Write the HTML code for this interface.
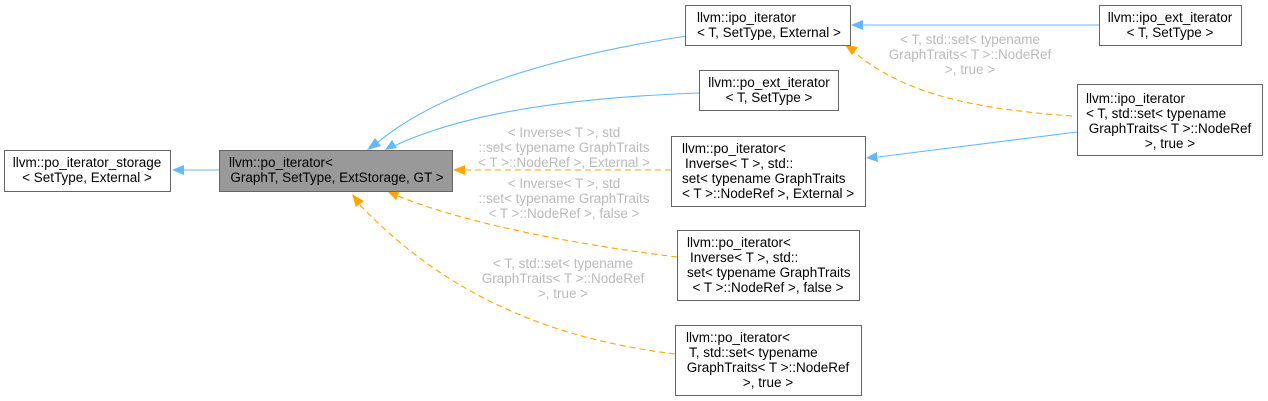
<!DOCTYPE html>
<html><head><meta charset="utf-8"><style>
html,body{margin:0;padding:0;background:#fff;}
svg{display:block;font-family:"Liberation Sans",Arial,sans-serif;}
.n{fill:#fff;stroke:#666;stroke-width:1}
.t{font-size:13.5px;fill:#000;text-anchor:middle}
.s{font-size:13.5px;fill:#000;text-anchor:start}
.l{font-size:13.5px;fill:#bbb;text-anchor:middle}
.b{fill:none;stroke:#63b8ff;stroke-width:1.1}
.o{fill:none;stroke:#ffa500;stroke-width:1.1;stroke-dasharray:6,4}
</style></head><body>
<svg width="1268" height="401" viewBox="0 0 1268 401">
<!-- edges -->
<path class="b" d="M219,170 L182,170"/>
<polygon points="172,170 184,165 184,175" fill="#63b8ff"/>
<path class="b" d="M687,36 C560,55 440,90 377,143"/>
<polygon points="367,150 375,138 381,146" fill="#63b8ff"/>
<path class="b" d="M699,93 C560,98 460,115 394,146"/>
<polygon points="385,150 392,140 397,148" fill="#63b8ff"/>
<path class="o" d="M671,170 L464,170"/>
<polygon points="453,170 465,165 465,175" fill="#ffa500"/>
<path class="o" d="M677,257 C580,245 470,225 398,196"/>
<polygon points="387,191 400,191 396,200" fill="#ffa500"/>
<path class="o" d="M675,354 C560,340 450,300 359,204"/>
<polygon points="352,194 364,201 356,207" fill="#ffa500"/>
<path class="b" d="M1099,25 L862,25"/>
<polygon points="851,25 863,20 863,30" fill="#63b8ff"/>
<path class="o" d="M1072,116 C960,108 900,90 854,52"/>
<polygon points="845,45 858,47 852,55" fill="#ffa500"/>
<path class="b" d="M1077,132 L878,157"/>
<polygon points="866,158 877,152 878,162" fill="#63b8ff"/>
<!-- labels -->
<text class="l" x="564" y="137">&lt; Inverse&lt; T &gt;, std</text>
<text class="l" x="564" y="152">::set&lt; typename GraphTraits</text>
<text class="l" x="564" y="167">&lt; T &gt;::NodeRef &gt;, External &gt;</text>
<text class="l" x="564" y="188">&lt; Inverse&lt; T &gt;, std</text>
<text class="l" x="564" y="203">::set&lt; typename GraphTraits</text>
<text class="l" x="564" y="218">&lt; T &gt;::NodeRef &gt;, false &gt;</text>
<text class="l" x="563" y="268">&lt; T, std::set&lt; typename</text>
<text class="l" x="563" y="283">GraphTraits&lt; T &gt;::NodeRef</text>
<text class="l" x="563" y="298">&gt;, true &gt;</text>
<text class="l" x="970" y="44">&lt; T, std::set&lt; typename</text>
<text class="l" x="970" y="59">GraphTraits&lt; T &gt;::NodeRef</text>
<text class="l" x="970" y="74">&gt;, true &gt;</text>
<!-- nodes -->
<rect class="n" x="4.5" y="150.5" width="166" height="41"/>
<text class="t" x="87" y="167">llvm::po_iterator_storage</text>
<text class="t" x="87" y="182">&lt; SetType, External &gt;</text>
<rect x="219.5" y="150.5" width="233" height="41" fill="#999" stroke="#666"/>
<text class="s" x="229" y="167">llvm::po_iterator&lt;</text>
<text class="t" x="337" y="182">GraphT, SetType, ExtStorage, GT &gt;</text>
<rect class="n" x="685.5" y="5.5" width="165" height="40"/>
<text class="s" x="697" y="22">llvm::ipo_iterator</text>
<text class="s" x="697" y="37">&lt; T, SetType, External &gt;</text>
<rect class="n" x="1099.5" y="5.5" width="142" height="40"/>
<text class="t" x="1170" y="22">llvm::ipo_ext_iterator</text>
<text class="t" x="1170" y="37">&lt; T, SetType &gt;</text>
<rect class="n" x="699.5" y="70.5" width="139" height="40"/>
<text class="t" x="769" y="87">llvm::po_ext_iterator</text>
<text class="t" x="769" y="102">&lt; T, SetType &gt;</text>
<rect class="n" x="1077.5" y="84.5" width="185" height="71"/>
<text class="s" x="1086" y="103">llvm::ipo_iterator</text>
<text class="s" x="1086" y="118">&lt; T, std::set&lt; typename</text>
<text class="t" x="1170" y="133">GraphTraits&lt; T &gt;::NodeRef</text>
<text class="t" x="1170" y="148">&gt;, true &gt;</text>
<rect class="n" x="671.5" y="136.5" width="194" height="70"/>
<text class="s" x="682" y="153">llvm::po_iterator&lt;</text>
<text class="s" x="685" y="168">Inverse&lt; T &gt;, std::</text>
<text class="s" x="682" y="183">set&lt; typename GraphTraits</text>
<text class="s" x="682" y="198">&lt; T &gt;::NodeRef &gt;, External &gt;</text>
<rect class="n" x="677.5" y="230.5" width="182" height="70"/>
<text class="s" x="687" y="247">llvm::po_iterator&lt;</text>
<text class="s" x="690" y="262">Inverse&lt; T &gt;, std::</text>
<text class="s" x="687" y="277">set&lt; typename GraphTraits</text>
<text class="t" x="768" y="292">&lt; T &gt;::NodeRef &gt;, false &gt;</text>
<rect class="n" x="675.5" y="325.5" width="186" height="70"/>
<text class="s" x="686" y="342">llvm::po_iterator&lt;</text>
<text class="s" x="689" y="357">T, std::set&lt; typename</text>
<text class="t" x="768" y="372">GraphTraits&lt; T &gt;::NodeRef</text>
<text class="t" x="768" y="387">&gt;, true &gt;</text>
</svg>
</body></html>
